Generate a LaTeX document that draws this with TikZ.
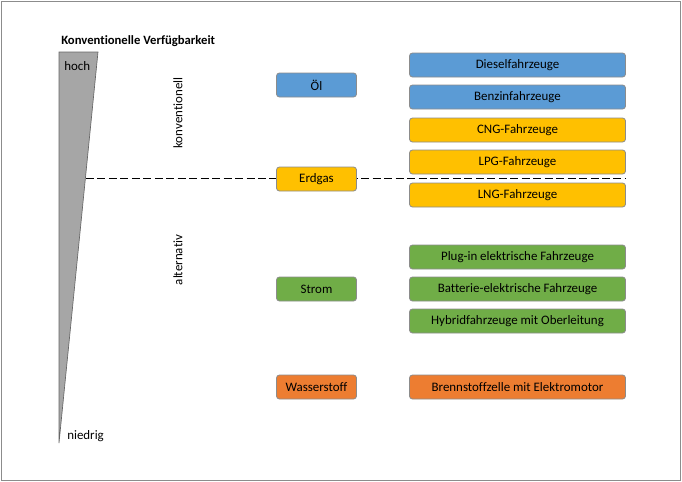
\documentclass[tikz,border=0pt]{standalone}
\usepackage{fontspec}
\setmainfont{Carlito}[Ligatures=NoCommon]
\definecolor{cblue}{HTML}{5B9BD5}
\definecolor{cyellow}{HTML}{FFC000}
\definecolor{cgreen}{HTML}{70AD47}
\definecolor{corange}{HTML}{ED7D31}
\definecolor{cborder}{HTML}{8C8C8C}
\definecolor{ctri}{HTML}{A6A6A6}
\begin{document}
\begin{tikzpicture}[x=0.75pt,y=-0.75pt,
  box/.style={draw=cborder,line width=0.6pt,rounded corners=2.2pt,inner sep=0pt,minimum height=18pt,font=\fontsize{9.7}{11}\selectfont,text=black},
  lbox/.style={box,minimum width=60pt},
  rbox/.style={box,minimum width=162pt},
  lbl/.style={font=\fontsize{9.7}{11}\selectfont,inner sep=0pt}]
\useasboundingbox (0,0) rectangle (682,482);
\draw[draw=cborder,line width=0.6pt] (1,1) rectangle (680,480);
% triangle
\draw[fill=ctri,draw=gray!80!black,line width=0.5pt] (59,52) -- (98,52) -- (59,443) -- cycle;
\node[lbl,font=\fontsize{9.5}{11}\selectfont\bfseries,anchor=west] (title) at (61,41) {Konventionelle Verfügbarkeit};
\node[lbl,anchor=west] (hoch) at (64,66) {hoch};
\node[lbl,anchor=west] (niedrig) at (67,436) {niedrig};
\node[lbl,rotate=90] (konv) at (178,113) {konventionell};
\node[lbl,rotate=90] (alt) at (178,260) {alternativ};
% dashed line
\coordinate (dA) at (86,178.5);
\coordinate (dB) at (626,178.5);
\draw[dash pattern=on 6pt off 2.6pt,line width=0.7pt] (dA) -- (dB);
% left boxes
\node[lbox,fill=cblue] (oel) at (316.5,85) {Öl};
\node[lbox,fill=cyellow] (erdgas) at (316.5,179) {Erdgas};
\node[lbox,fill=cgreen] (strom) at (316.5,289) {Strom};
\node[lbox,fill=corange] (wasser) at (316.5,387) {Wasserstoff};
% right boxes
\node[rbox,fill=cblue] (diesel) at (517.5,65) {Dieselfahrzeuge};
\node[rbox,fill=cblue] (benzin) at (517.5,97) {Benzinfahrzeuge};
\node[rbox,fill=cyellow] (cng) at (517.5,130) {CNG-Fahrzeuge};
\node[rbox,fill=cyellow] (lpg) at (517.5,162) {LPG-Fahrzeuge};
\node[rbox,fill=cyellow] (lng) at (517.5,195) {LNG-Fahrzeuge};
\node[rbox,fill=cgreen] (plug) at (517.5,257) {Plug-in elektrische Fahrzeuge};
\node[rbox,fill=cgreen] (batt) at (517.5,289) {Batterie-elektrische Fahrzeuge};
\node[rbox,fill=cgreen] (hybrid) at (517.5,321) {Hybridfahrzeuge mit Oberleitung};
\node[rbox,fill=corange] (brenn) at (517.5,387) {Brennstoffzelle mit Elektromotor};
\end{tikzpicture}
\end{document}
